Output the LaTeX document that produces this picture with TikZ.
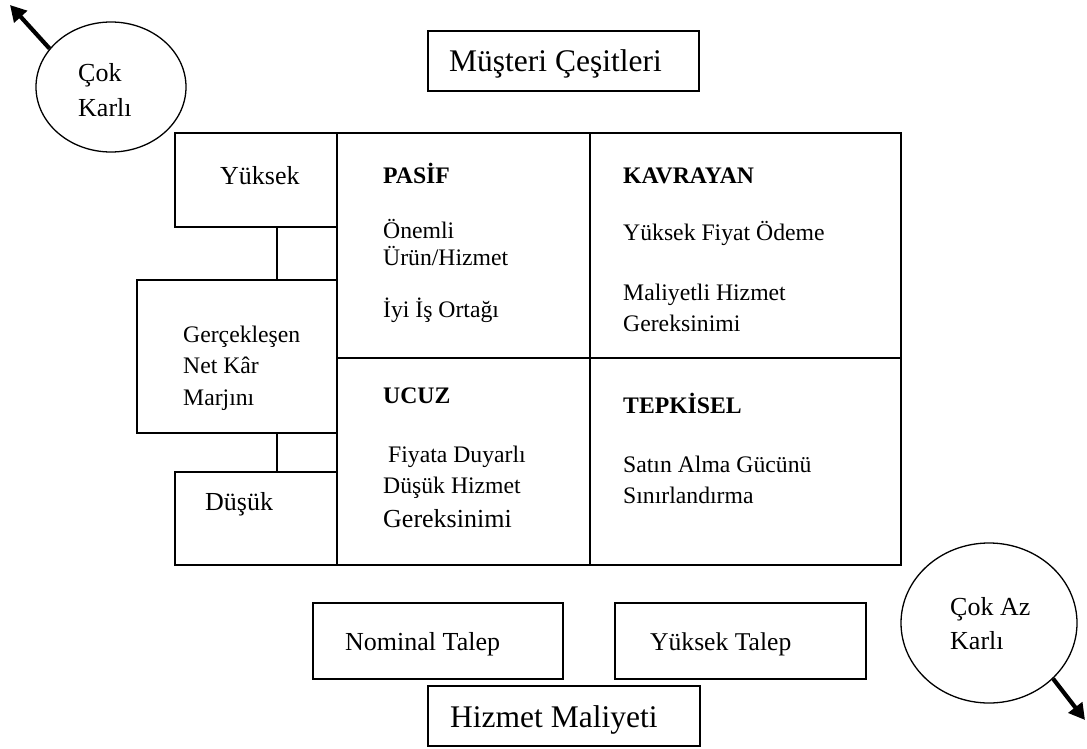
\documentclass[tikz,border=0pt]{standalone}
\usepackage{fontspec}
\setmainfont{Liberation Serif}
\usetikzlibrary{shapes.geometric,arrows.meta}
\newcommand\myfs[1]{\fontsize{#1}{#1}\selectfont}
\begin{document}
\begin{tikzpicture}[x=1pt,y=-1pt,
  boxn/.style n args={2}{draw,line width=1.7pt,fill=white,inner sep=0pt,minimum width=#1,minimum height=#2},
  cell/.style n args={2}{draw,line width=1.7pt,inner sep=0pt,minimum width=#1,minimum height=#2},
  oval/.style n args={2}{ellipse,draw,line width=1.3pt,inner sep=0pt,minimum width=#1,minimum height=#2},
  txt/.style={anchor=base west,inner sep=0pt,font=\myfs{23.7}},
  big/.style={anchor=base west,inner sep=0pt,font=\myfs{26}},
  hdr/.style={anchor=base west,inner sep=0pt,font=\myfs{23.7}\bfseries},
  title/.style={anchor=base west,inner sep=0pt,font=\myfs{31.5}},
  link/.style={line width=1.7pt},
  thickarrow/.style={line width=4.2pt,-{Triangle[length=16pt,width=17pt]}}
]
\useasboundingbox (0,0) rectangle (1087,749);
% grid cells
\node[cell={253pt}{225pt}] (pasif) at (463.5,245.5) {};
\node[cell={311pt}{225pt}] (kavrayan) at (745.5,245.5) {};
\node[cell={253pt}{207pt}] (ucuz) at (463.5,461.5) {};
\node[cell={311pt}{207pt}] (tepkisel) at (745.5,461.5) {};
% left boxes
\node[boxn={162pt}{94pt}] (yuksek) at (256,180) {};
\node[boxn={200pt}{153pt}] (gercek) at (237,356.5) {};
\node[boxn={162pt}{93pt}] (dusuk) at (256,518.5) {};
\draw[link] ([xshift=21pt]yuksek.south) -- ([xshift=21pt]yuksek.south |- gercek.north);
\draw[link] ([xshift=21pt]dusuk.north) -- ([xshift=21pt]dusuk.north |- gercek.south);
% top and bottom boxes
\node[boxn={271pt}{60pt}] (musteri) at (563.5,61) {};
\node[boxn={250pt}{76pt}] (nominal) at (438,641) {};
\node[boxn={251pt}{76pt}] (ytalep) at (740.5,641) {};
\node[boxn={272pt}{60pt}] (hizmet) at (564,716) {};
% ovals
\node[oval={150pt}{130pt}] (cokkarli) at (111,87) {};
\node[oval={176pt}{160pt}] (cokazkarli) at (989,623) {};
\coordinate (tl) at (10,5);
\coordinate (br) at (1085,720);
\draw[thickarrow] (cokkarli.148) -- (tl);
\draw[thickarrow] (cokazkarli.-41) -- (br);
% texts
\node[title] (t1) at (449,72) {Müşteri Çeşitleri};
\node[title] (t2) at (450,727) {Hizmet Maliyeti};
\node[big] (t3) at (345,650) {Nominal Talep};
\node[big,font=\myfs{25.6}] (t4) at (650,650) {Yüksek Talep};
\node[big] (t5) at (220,185) {Yüksek};
\node[big] (t6) at (205,510) {Düşük};
\node[txt] (t7) at (183,342) {Gerçekleşen};
\node[txt] (t8) at (183,373) {Net Kâr};
\node[txt] (t9) at (183,405) {Marjını};
\node[big] (t10) at (78,82) {Çok};
\node[big] (t11) at (78,117) {Karlı};
\node[big] (t12) at (950,615) {Çok Az};
\node[big] (t13) at (950,649) {Karlı};
\node[hdr] (h1) at (383,183) {PASİF};
\node[txt] (p1) at (383,238) {Önemli};
\node[txt] (p2) at (383,265) {Ürün/Hizmet};
\node[txt] (p3) at (383,317) {İyi İş Ortağı};
\node[hdr] (h2) at (623,183) {KAVRAYAN};
\node[txt] (k1) at (623,240) {Yüksek Fiyat Ödeme};
\node[txt] (k2) at (623,300) {Maliyetli Hizmet};
\node[txt] (k3) at (623,331) {Gereksinimi};
\node[hdr] (h3) at (383,403) {UCUZ};
\node[txt] (u1) at (388,462) {Fiyata Duyarlı};
\node[txt] (u2) at (383,493) {Düşük Hizmet};
\node[big] (u3) at (383,527) {Gereksinimi};
\node[hdr] (h4) at (623,413) {TEPKİSEL};
\node[txt] (e1) at (623,472) {Satın Alma Gücünü};
\node[txt] (e2) at (623,503) {Sınırlandırma};
\end{tikzpicture}
\end{document}
